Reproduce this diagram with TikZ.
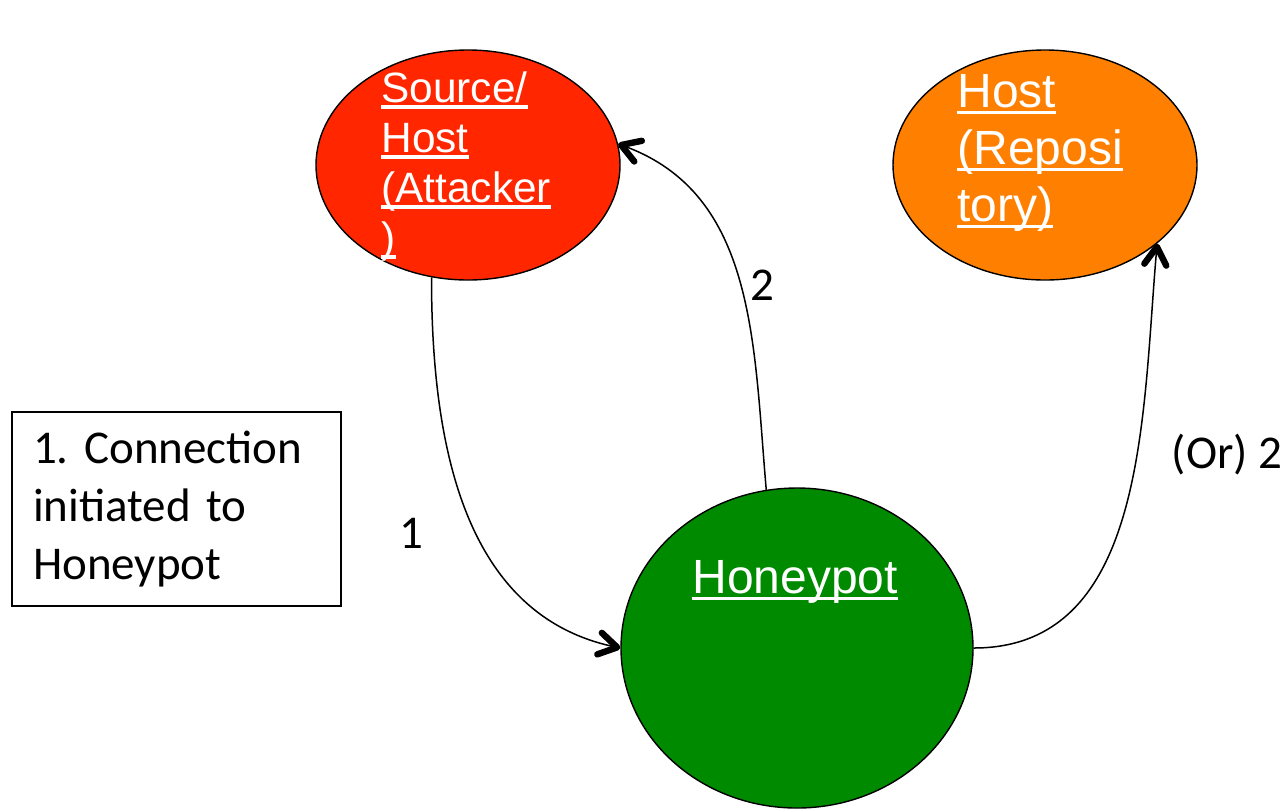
\documentclass[tikz,border=0pt]{standalone}
\usepackage{fontspec}
\setmainfont{Carlito}
\newfontfamily\arialfont{Liberation Sans}
\usetikzlibrary{shapes.geometric,arrows.meta}
\definecolor{srcred}{RGB}{255,38,0}
\definecolor{repoorange}{RGB}{255,128,0}
\definecolor{potgreen}{RGB}{0,138,0}
\newcommand\ulined[1]{\setbox0\hbox{#1}\rlap{\rule[-0.155em]{\wd0}{0.075em}}\box0}

\begin{document}
\begin{tikzpicture}[x=0.5pt,y=0.5pt,
    hostnode/.style={ellipse,draw,line width=0.7pt,inner sep=0pt},
    hosttext/.style={text=white,align=left,inner sep=0pt,anchor=base west},
    lbl/.style={font=\fontsize{23.5}{29}\selectfont},
    link/.style={line width=0.75pt,-{Straight Barb[length=9pt,width=11pt,line width=3.2pt,round]}}]
    \useasboundingbox (0,0) rectangle (1288,-810);
    \node[hostnode,fill=srcred,minimum width=152pt,minimum height=115pt] (src) at (468,-165) {};
    \node[hostnode,fill=repoorange,minimum width=152pt,minimum height=115pt] (repo) at (1045,-165) {};
    \node[hostnode,fill=potgreen,minimum width=176pt,minimum height=160pt] (hp) at (797,-648) {};
    % base anchor sits on the last line
    \node[hosttext,font=\arialfont\fontsize{21.2}{25}\selectfont] (srctext) at (381,-252)
        {\ulined{Source/}\\\ulined{Host}\\\ulined{(Attacker}\\\ulined{)}};
    \node[hosttext,font=\arialfont\fontsize{24}{28.5}\selectfont] (repotext) at (957,-221)
        {\ulined{Host}\\\ulined{(Reposi}\\\ulined{tory)}};
    \node[hosttext,font=\arialfont\fontsize{24}{28.5}\selectfont] (hptext) at (692,-593) {\ulined{Honeypot}};
    %% connections
    \draw[link] (src.252) to[out=-90,in=168] (hp.west);
    \draw[link] (hp.101) to[out=95,in=-20] (src.8);
    \draw[link] (hp.east) to[out=0,in=-95] (repo.-35);
    \node[lbl] (one) at (411,-533) {1};
    \node[lbl] (two) at (762,-285) {2};
    \node[lbl] (ortwo) at (1227,-455) {(Or) 2};
    \node[draw,line width=0.8pt,align=left,text width=143.5pt,minimum width=164.5pt,minimum height=97pt,
        font=\fontsize{23.5}{29}\selectfont] (note) at (176.5,-509) {1.\ Connection\\initiated to\\Honeypot};
\end{tikzpicture}
\end{document}
